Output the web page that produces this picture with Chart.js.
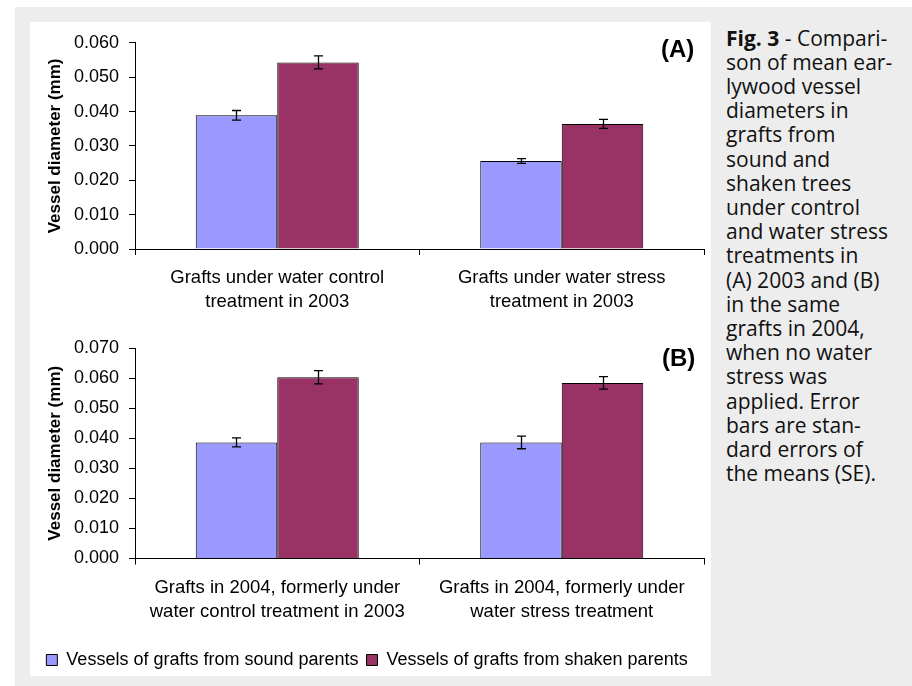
<!DOCTYPE html>
<html><head><meta charset="utf-8">
<script src="https://cdn.jsdelivr.net/npm/chart.js@4.4.1/dist/chart.umd.min.js"></script>
<style>
html,body{margin:0;padding:0;background:#fff;}
body{width:912px;height:686px;position:relative;overflow:hidden;font-family:Arial,"Liberation Sans",sans-serif;}
#frame{position:absolute;left:15px;top:7px;width:897px;height:679px;background:#ededed;}
#panel{position:absolute;left:30px;top:22px;width:681px;height:654px;background:#fff;}
#wa{position:absolute;left:0;top:0;width:681px;height:300px;}
#wb{position:absolute;left:0;top:300px;width:681px;height:357px;}
.tag{position:absolute;font:bold 24px Arial,"Liberation Sans",sans-serif;line-height:24px;color:#000;}
#caption{position:absolute;left:726px;top:25.5px;width:186px;white-space:nowrap;font-size:21px;font-family:"Open Sans",sans-serif;line-height:24.2px;color:#111;}
</style>
</head>
<body>
<div id="frame"></div>
<div id="panel">
  <div id="wa"><canvas id="ca"></canvas></div>
  <div id="wb"><canvas id="cb"></canvas></div>
  <div class="tag" style="left:631px;top:15px;">(A)</div>
  <div class="tag" style="left:632px;top:324px;">(B)</div>
</div>
<div id="caption"><b>Fig. 3</b> - Compari-<br>son of mean ear-<br>lywood vessel<br>diameters in<br>grafts from<br>sound and<br>shaken trees<br>under control<br>and water stress<br>treatments in<br>(A) 2003 and (B)<br>in the same<br>grafts in 2004,<br>when no water<br>stress was<br>applied. Error<br>bars are stan-<br>dard errors of<br>the means (SE).</div>
<script>
// ---- data ----
const seriesNames = ["Vessels of grafts from sound parents", "Vessels of grafts from shaken parents"];
const categoriesA = [["Grafts under water control", "treatment in 2003"], ["Grafts under water stress", "treatment in 2003"]];
const categoriesB = [["Grafts in 2004, formerly under", "water control treatment in 2003"], ["Grafts in 2004, formerly under", "water stress treatment"]];
const soundA = [0.0389, 0.0256];
const shakenA = [0.0543, 0.0364];
const soundErrA = [0.0014, 0.0007];
const shakenErrA = [0.0019, 0.0013];
const soundB = [0.0386, 0.0386];
const shakenB = [0.0603, 0.0584];
const soundErrB = [0.0015, 0.0021];
const shakenErrB = [0.0022, 0.0021];
const maxA = 0.06, maxB = 0.07, stepY = 0.01;

const colSound = "#9999ff", colShaken = "#993366";

const errorBars = {
  id: "errorBars",
  afterDatasetsDraw(chart) {
    const ctx = chart.ctx, ys = chart.scales.y;
    ctx.save();
    ctx.strokeStyle = "#000";
    ctx.lineWidth = 1.3;
    chart.data.datasets.forEach((ds, i) => {
      const meta = chart.getDatasetMeta(i);
      meta.data.forEach((bar, j) => {
        const v = ds.data[j], e = ds.errors[j];
        const yt = ys.getPixelForValue(v + e), yb = ys.getPixelForValue(v - e);
        const x = Math.round(bar.x) + 0.5;
        ctx.beginPath();
        ctx.moveTo(x, yt); ctx.lineTo(x, yb);
        ctx.moveTo(x - 4.5, yt); ctx.lineTo(x + 4.5, yt);
        ctx.moveTo(x - 4.5, yb); ctx.lineTo(x + 4.5, yb);
        ctx.stroke();
      });
    });
    ctx.restore();
  }
};

function makeChart(id, cats, s1, s2, e1, e2, ymax, legend, padTop, xh) {
  return new Chart(document.getElementById(id), {
    type: "bar",
    data: {
      labels: cats,
      datasets: [
        {label: seriesNames[0], data: s1, errors: e1, backgroundColor: colSound, borderColor: "#000", borderWidth: 1, borderSkipped: "bottom"},
        {label: seriesNames[1], data: s2, errors: e2, backgroundColor: colShaken, borderColor: "#000", borderWidth: 1, borderSkipped: "bottom"}
      ]
    },
    plugins: [errorBars],
    options: {
      responsive: true, maintainAspectRatio: false, animation: false,
      categoryPercentage: 0.573, barPercentage: 1.0,
      layout: {padding: {left: 0, right: 7, top: padTop, bottom: 0}},
      plugins: {
        tooltip: {enabled: false},
        title: {display: false},
        legend: {
          display: legend, position: "bottom",
          labels: {boxWidth: 11, boxHeight: 11, padding: 8, color: "#000", font: {family: "Arial", size: 18}}
        }
      },
      scales: {
        x: {
          grid: {display: true, drawOnChartArea: false, drawTicks: true, tickLength: 6, color: "#000", offset: true},
          border: {display: true, color: "#000", width: 1},
          ticks: {color: "#000", font: {family: "Arial", size: 18.5, lineHeight: 1.3}, padding: 11, maxRotation: 0, autoSkip: false},
          afterFit(s) { s.height = xh; }
        },
        y: {
          min: 0, max: ymax,
          grid: {drawOnChartArea: false, drawTicks: true, tickLength: 6, color: "#000"},
          border: {display: true, color: "#000", width: 1},
          ticks: {stepSize: stepY, color: "#000", padding: 10, font: {family: "Arial", size: 18}, callback: v => v.toFixed(3)},
          title: {display: true, text: "Vessel diameter (mm)", color: "#000", font: {family: "Arial", size: 17, weight: "bold"}, padding: {top: 15, bottom: 4}},
          afterFit(s) { s.width = 105; }
        }
      }
    }
  });
}

makeChart("ca", categoriesA, soundA, shakenA, soundErrA, shakenErrA, maxA, false, 17, 73);
makeChart("cb", categoriesB, soundB, shakenB, soundErrB, shakenErrB, maxB, true, 26, 84.5);
</script>
</body></html>
